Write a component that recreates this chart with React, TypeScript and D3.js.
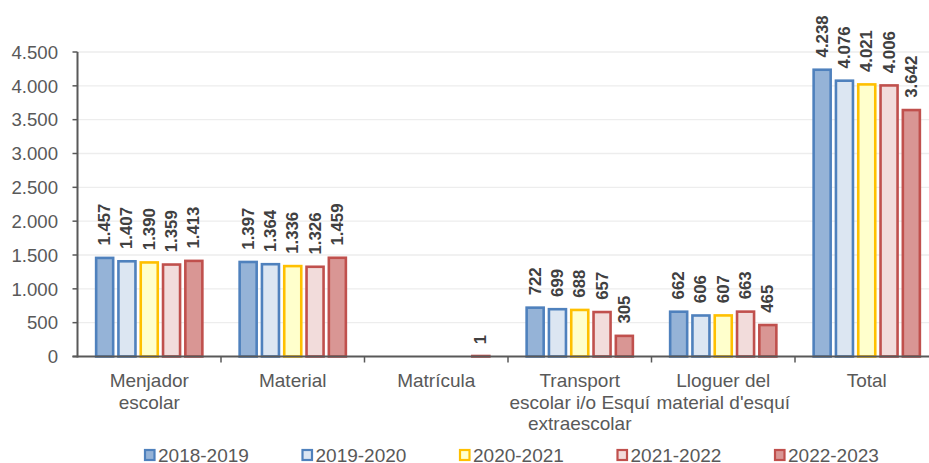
import React from "react";
import * as d3 from "d3";

const categories: string[][] = [
  ["Menjador", "escolar"],
  ["Material"],
  ["Matrícula"],
  ["Transport", "escolar i/o Esquí", "extraescolar"],
  ["Lloguer del", "material d'esquí"],
  ["Total"],
];
const seriesNames = ["2018-2019", "2019-2020", "2020-2021", "2021-2022", "2022-2023"];
const s2018 = [1457, 1397, 0, 722, 662, 4238];
const s2019 = [1407, 1364, 0, 699, 606, 4076];
const s2020 = [1390, 1336, 0, 688, 607, 4021];
const s2021 = [1359, 1326, 0, 657, 663, 4006];
const s2022 = [1413, 1459, 1, 305, 465, 3642];
const yTicks = [0, 500, 1000, 1500, 2000, 2500, 3000, 3500, 4000, 4500];

const fills = ["#95B3D7", "#DCE6F2", "#FFFFCC", "#F2DCDB", "#D99694"];
const strokes = ["#4F81BD", "#4F81BD", "#FFC000", "#C0504D", "#C0504D"];

const locale = d3.formatLocale({ decimal: ",", thousands: ".", grouping: [3], currency: ["", "€"] });
const fmt = locale.format(",d");

export default function App() {
  const W = 929, H = 463;
  const left = 77.5, right = 938.5, top = 52, bottom = 356.5;
  const series = [s2018, s2019, s2020, s2021, s2022];
  const y = d3.scaleLinear().domain([0, 4500]).range([bottom, top]);
  const x0 = d3.scaleBand<number>().domain(d3.range(categories.length)).range([left, right]).padding(0);
  const gw = x0.bandwidth();
  const x1 = d3.scaleBand<number>().domain(d3.range(seriesNames.length)).range([16, gw - 16]).paddingInner(0.12).paddingOuter(0.06);
  const sw = 2.6;
  const font = "'Liberation Sans', Arial, sans-serif";
  const legendX = d3.scaleLinear().domain([0, 1]).range([144, 301.5]);

  return (
    <svg width={W} height={H} style={{ position: "absolute", left: 0, top: 0 }} fontFamily={font}>
      <rect width={W} height={H} fill="#fff" />
      {yTicks.map((t) => (
        <g key={t}>
          {t > 0 && <line x1={left} x2={right} y1={y(t)} y2={y(t)} stroke="#EDEDED" strokeWidth={1.3} />}
          <line x1={left - 5} x2={left} y1={y(t)} y2={y(t)} stroke="#595959" strokeWidth={1.5} />
          <text x={58} y={y(t)} dy="0.36em" textAnchor="end" fontSize={18.6} fill="#595959">{fmt(t)}</text>
        </g>
      ))}
      {categories.map((c, i) => {
        const gx = x0(i)!;
        return (
          <g key={i}>
            {series.map((s, j) => {
              const v = s[i];
              if (v === 0) return null;
              const bx = gx + x1(j)!;
              const bw = x1.bandwidth();
              const yt = y(v);
              const h = Math.max(bottom - yt, 0.5);
              const cx = bx + bw / 2;
              const ly = yt - sw / 2 - 11;
              return (
                <g key={j}>
                  <rect x={bx + sw / 2} y={bottom - h} width={bw - sw} height={h} fill={fills[j]} stroke={strokes[j]} strokeWidth={sw} />
                  <text transform={`translate(${cx},${ly}) rotate(-90)`} dominantBaseline="central" textAnchor="start" fontSize={16.8} fontWeight="bold" fill="#404040">{fmt(v)}</text>
                </g>
              );
            })}
            <line x1={gx + gw} x2={gx + gw} y1={bottom} y2={bottom + 6} stroke="#595959" strokeWidth={1.5} />
            {c.map((line, k) => (
              <text key={k} x={gx + gw / 2} y={387 + k * 21.5} textAnchor="middle" fontSize={19} fill="#595959">{line}</text>
            ))}
          </g>
        );
      })}
      <line x1={left} x2={left} y1={top} y2={bottom + 1} stroke="#595959" strokeWidth={2} />
      <line x1={left - 5} x2={right} y1={bottom} y2={bottom} stroke="#595959" strokeWidth={2} />
      {seriesNames.map((n, j) => {
        const lx = legendX(j);
        return (
          <g key={n}>
            <rect x={lx + 1} y={450} width={9.5} height={10} fill={fills[j]} stroke={strokes[j]} strokeWidth={2.2} />
            <text x={lx + 14} y={461.5} fontSize={19} fill="#595959">{n}</text>
          </g>
        );
      })}
    </svg>
  );
}
